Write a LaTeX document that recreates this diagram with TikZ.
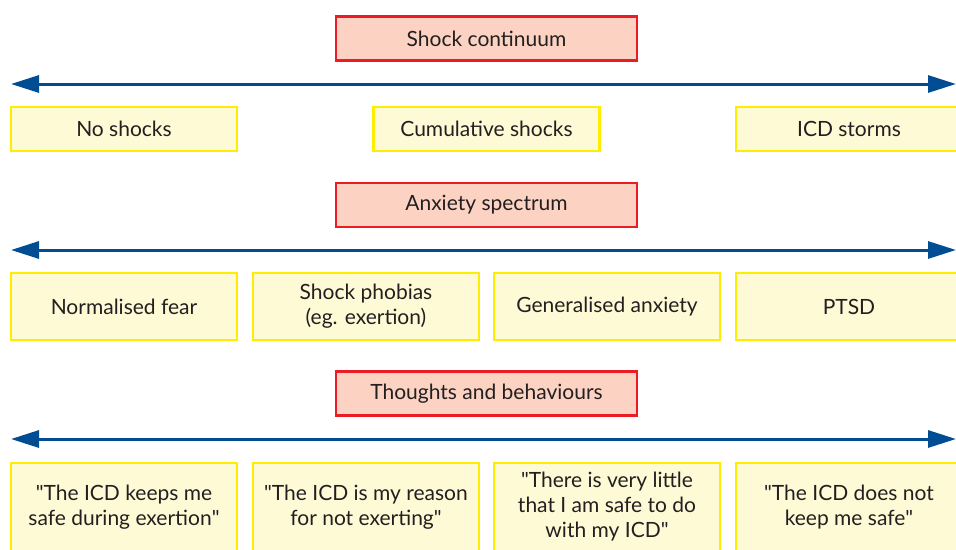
\documentclass[tikz,border=0pt]{standalone}
\usepackage{fontspec}
\setmainfont{Lato}
\usepackage{tikz}
\usetikzlibrary{arrows.meta,positioning}
\definecolor{boxred}{RGB}{237,28,36}
\definecolor{redfill}{RGB}{252,211,195}
\definecolor{boxyellow}{RGB}{255,237,0}
\definecolor{yellowfill}{RGB}{255,250,214}
\definecolor{arrowblue}{RGB}{0,77,148}
\definecolor{textgray}{RGB}{35,31,32}
\newcommand{\qt}{\textquotedbl}

\begin{document}
\begin{tikzpicture}[x=1pt,y=-1pt,
    heading/.style={draw=boxred, fill=redfill, line width=2.5pt, minimum width=301pt, minimum height=44pt, inner sep=0pt, text=textgray, font=\fontsize{21}{25}\selectfont},
    stage/.style={draw=boxyellow, fill=yellowfill, line width=2.5pt, minimum width=226pt, inner sep=0pt, align=center, text=textgray, font=\fontsize{21}{25}\selectfont},
    spectrum/.style={arrowblue, line width=3pt, {Triangle[length=28pt,width=17pt]}-{Triangle[length=28pt,width=17pt]}}]
    \useasboundingbox (0,0) rectangle (956,549);
    \clip (0,0) rectangle (956,549);

    % shock continuum
    \node[heading] (shock) at (486.5,38.5) {Shock continuum};
    \coordinate (sl) at (11,84);
    \coordinate (sr) at (956,84);
    \draw[spectrum] (sl) -- (sr);
    \node[stage, minimum height=44pt] (noshock) at (124,129) {No shocks};
    \node[stage, minimum height=44pt] (cumul) at (486.5,129) {Cumulative shocks};
    \node[stage, minimum height=44pt] (storm) at (849,129) {ICD storms};

    % anxiety spectrum
    \node[heading] (anxiety) at (486.5,205) {Anxiety spectrum};
    \coordinate (al) at (11,250);
    \coordinate (ar) at (956,250);
    \draw[spectrum] (al) -- (ar);
    \node[stage, minimum height=67pt] (fear) at (124,306.5) {Normalised fear};
    \node[stage, minimum height=67pt] (phobia) at (366,306.5) {Shock phobias\\(eg. exertion)};
    \node[stage, minimum height=67pt] (general) at (607,306.5) {Generalised anxiety};
    \node[stage, minimum height=67pt] (ptsd) at (849,306.5) {PTSD};

    % thoughts and behaviours
    \node[heading] (thought) at (486.5,393.5) {Thoughts and behaviours};
    \coordinate (tl) at (11,439);
    \coordinate (tr) at (956,439);
    \draw[spectrum] (tl) -- (tr);
    \node[stage, minimum height=88pt] (keeps) at (124,507) {\qt The ICD keeps me\\safe during exertion\qt};
    \node[stage, minimum height=88pt] (reason) at (366,507) {\qt The ICD is my reason\\for not exerting\qt};
    \node[stage, minimum height=88pt] (little) at (607,507) {\qt There is very little\\that I am safe to do\\with my ICD\qt};
    \node[stage, minimum height=88pt] (notsafe) at (849,507) {\qt The ICD does not\\keep me safe\qt};
\end{tikzpicture}
\end{document}
